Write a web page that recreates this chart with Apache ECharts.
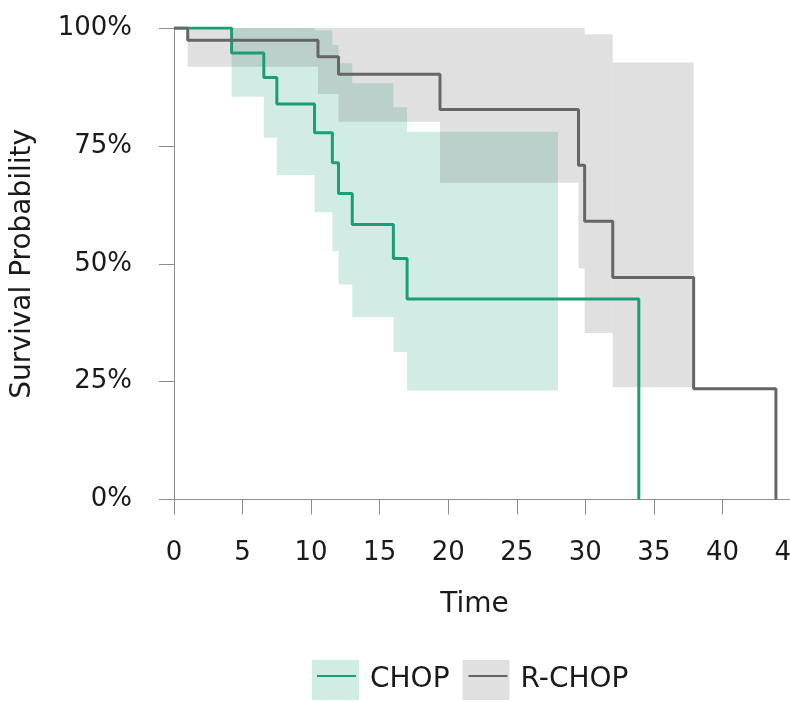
<!DOCTYPE html>
<html><head><meta charset="utf-8">
<script src="https://cdn.jsdelivr.net/npm/echarts@6/dist/echarts.min.js"></script>
<style>html,body{margin:0;padding:0;background:#fff}#c{width:790px;height:702px}</style>
</head><body><div id="c"></div>
<script>
// ---- data ----
const xTickValues = [0, 5, 10, 15, 20, 25, 30, 35, 40, 45];
const yTickLabels = ['0%', '25%', '50%', '75%', '100%'];
const groups = ['CHOP', 'R-CHOP'];

// CHOP Kaplan-Meier step curve
const chopTime = [0, 4.2, 6.55, 7.5, 10.25, 11.55, 12.0, 13.0, 16.0, 17.0, 33.9];
const chopSurv = [1, 0.947, 0.895, 0.839, 0.778, 0.714, 0.649, 0.583, 0.511, 0.425, 0];
// CHOP confidence band (step edges; last time closes the band)
const chopBandTime = [4.2, 6.55, 7.5, 10.25, 11.55, 12.0, 13.0, 16.0, 17.0, 28.0];
const chopLower = [0.854, 0.767, 0.688, 0.609, 0.527, 0.456, 0.387, 0.313, 0.231, 0.231];
const chopUpper = [1.0, 1.0, 1.0, 0.995, 0.964, 0.925, 0.883, 0.832, 0.780, 0.780];

// R-CHOP Kaplan-Meier step curve
const rchopTime = [0, 1.0, 10.5, 12.0, 19.4, 29.5, 29.95, 32.0, 37.9, 43.9];
const rchopSurv = [1, 0.974, 0.939, 0.902, 0.827, 0.709, 0.590, 0.471, 0.235, 0];
// R-CHOP confidence band
const rchopBandTime = [1.0, 10.5, 12.0, 19.4, 29.5, 29.95, 32.0, 37.9];
const rchopLower = [0.918, 0.860, 0.801, 0.672, 0.490, 0.353, 0.238, 0.238];
const rchopUpper = [1, 1, 1, 1, 1, 0.987, 0.927, 0.927];

// ---- styling ----
const FONT = 'DejaVu Sans';
const GREEN = '#1b9e77';
const GREY = '#666666';
const GREEN_BAND = 'rgba(27,158,119,0.2)';
const GREY_BAND = 'rgba(102,102,102,0.2)';
const AXIS_COL = '#8c8c8c';
const TEXT_COL = '#1a1a1a';

const zip = (a, b) => a.map((v, i) => [v, b[i]]);
// band intervals: [start, end, lower, upper]
const intervals = (t, lo, hi) => t.slice(0, -1).map((v, i) => [v, t[i + 1], lo[i], hi[i]]);

function bandSeries(name, data, color) {
  return {
    name: name, type: 'custom', silent: true, z: 1, clip: true,
    encode: { x: [0, 1], y: [2, 3] },
    data: data,
    renderItem: function (params, api) {
      const p1 = api.coord([api.value(0), api.value(3)]);
      const p2 = api.coord([api.value(1), api.value(2)]);
      return {
        type: 'rect',
        shape: { x: p1[0], y: p1[1], width: p2[0] - p1[0], height: p2[1] - p1[1] },
        style: { fill: color, stroke: null }
      };
    }
  };
}

const chart = echarts.init(document.getElementById('c'), null, { renderer: 'canvas' });

const legendBase = {
  orient: 'horizontal', top: 660, itemHeight: 40, padding: 0, selectedMode: false,
  textStyle: { fontSize: 28, fontFamily: FONT, color: TEXT_COL, padding: [0, 0, 0, 6] }
};

chart.setOption({
  animation: false,
  backgroundColor: '#ffffff',
  textStyle: { fontFamily: FONT },
  grid: { left: 174, right: -1, top: 28, bottom: 202.5, containLabel: false, outerBoundsMode: 'none' },
  xAxis: {
    type: 'value', min: 0, max: 45, interval: 5, offset: 11.5,
    axisLine: { show: true, lineStyle: { color: AXIS_COL, width: 1 } },
    axisTick: { show: true, length: 15, lineStyle: { color: AXIS_COL, width: 1 } },
    axisLabel: { fontSize: 26, color: TEXT_COL, fontFamily: FONT, margin: 29,
      formatter: v => String(xTickValues[xTickValues.indexOf(v)]) },
    splitLine: { show: false },
    name: 'Time', nameLocation: 'middle', nameGap: 80,
    nameTextStyle: { fontSize: 28, color: TEXT_COL, fontFamily: FONT, padding: [0, 16, 0, 0] }
  },
  yAxis: {
    type: 'value', min: 0, max: 1, interval: 0.25, offset: 14,
    axisLine: { show: true, lineStyle: { color: AXIS_COL, width: 1 } },
    axisTick: { show: true, length: 15, lineStyle: { color: AXIS_COL, width: 1 } },
    axisLabel: { fontSize: 26, color: TEXT_COL, fontFamily: FONT, margin: 28,
      formatter: v => yTickLabels[Math.round(v / 0.25)] },
    splitLine: { show: false },
    name: 'Survival Probability', nameLocation: 'middle', nameGap: 123,
    nameTextStyle: { fontSize: 28, color: TEXT_COL, fontFamily: FONT }
  },
  legend: [
    Object.assign({}, legendBase, {
      left: 312, itemWidth: 47, itemGap: 13, icon: 'rect',
      data: [
        { name: groups[0], itemStyle: { color: GREEN_BAND, borderWidth: 0 } },
        { name: groups[1], itemStyle: { color: GREY_BAND, borderWidth: 0 } }
      ]
    }),
    Object.assign({}, legendBase, {
      left: 316, itemWidth: 39, itemGap: 21,
      itemStyle: { color: 'rgba(0,0,0,0)', borderWidth: 0 },
      textStyle: Object.assign({}, legendBase.textStyle, { color: 'rgba(0,0,0,0)' }),
      data: [groups[0], groups[1]]
    })
  ],
  series: [
    { name: groups[0], type: 'line', step: 'end', symbol: 'none', z: 3,
      lineStyle: { color: GREEN, width: 3 }, itemStyle: { color: GREEN },
      data: zip(chopTime, chopSurv) },
    { name: groups[1], type: 'line', step: 'end', symbol: 'none', z: 4,
      lineStyle: { color: GREY, width: 3 }, itemStyle: { color: GREY },
      data: zip(rchopTime, rchopSurv) },
    bandSeries('CHOP band', intervals(chopBandTime, chopLower, chopUpper), GREEN_BAND),
    bandSeries('R-CHOP band', intervals(rchopBandTime, rchopLower, rchopUpper), GREY_BAND)
  ]
});
</script>
</body></html>
